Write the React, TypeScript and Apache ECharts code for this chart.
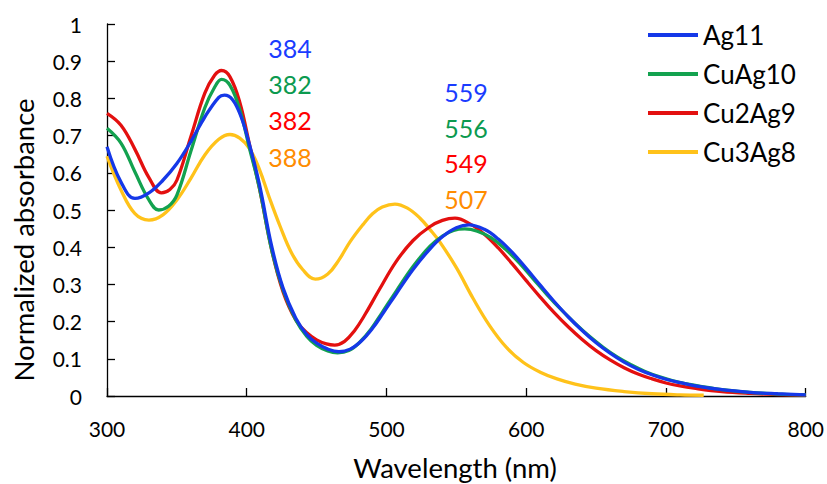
import React, { useEffect, useRef } from "react";
import * as echarts from "echarts";

const seriesNames = ["Ag11", "CuAg10", "Cu2Ag9", "Cu3Ag8"];
const lineColors = ["#1538e8", "#13a24f", "#e3100f", "#ffc21a"];
const peakColors = ["#1a3cff", "#0b9a4f", "#ff0000", "#ff8c00"];
const peakLeft = ["384", "382", "382", "388"];
const peakRight = ["559", "556", "549", "507"];

const ag11 = [
  [300, 0.67], [310, 0.575], [320, 0.531], [330, 0.546], [340, 0.58], [350, 0.625],
  [360, 0.684], [370, 0.75], [380, 0.803], [384, 0.809], [390, 0.796], [396, 0.75],
  [402, 0.675], [409, 0.57], [418, 0.4], [426, 0.29], [435, 0.21], [443, 0.165],
  [450, 0.142], [458, 0.126], [466, 0.119], [474, 0.126], [482, 0.148], [490, 0.182],
  [498, 0.225], [507, 0.275], [519, 0.34], [531, 0.395], [540, 0.428], [550, 0.452],
  [559, 0.46], [570, 0.448], [580, 0.422], [590, 0.386], [600, 0.343], [610, 0.298],
  [620, 0.254], [630, 0.213], [640, 0.176], [650, 0.143], [660, 0.115], [670, 0.091],
  [680, 0.072], [690, 0.057], [700, 0.045], [710, 0.036], [720, 0.028], [740, 0.017],
  [760, 0.01], [780, 0.006], [800, 0.003],
];
const cuAg10 = [
  [300, 0.72], [310, 0.68], [320, 0.602], [330, 0.527], [337, 0.5], [344, 0.51],
  [350, 0.54], [360, 0.658], [370, 0.775], [377, 0.83], [382, 0.851], [388, 0.835],
  [395, 0.77], [402, 0.665], [409, 0.56], [418, 0.39], [426, 0.285], [435, 0.205],
  [443, 0.16], [450, 0.136], [458, 0.121], [465, 0.116], [473, 0.122], [481, 0.145],
  [489, 0.18], [497, 0.225], [507, 0.282], [519, 0.348], [531, 0.402], [540, 0.43],
  [548, 0.445], [556, 0.449], [565, 0.443], [575, 0.425], [585, 0.395], [595, 0.358],
  [605, 0.315], [615, 0.272], [625, 0.232], [635, 0.195], [645, 0.161], [655, 0.131],
  [665, 0.105], [675, 0.084], [685, 0.066], [695, 0.052], [705, 0.041], [720, 0.029],
  [740, 0.017], [760, 0.01], [780, 0.005], [800, 0.003],
];
const cu2Ag9 = [
  [300, 0.76], [310, 0.728], [320, 0.663], [330, 0.587], [339, 0.546], [345, 0.555],
  [350, 0.58], [360, 0.697], [370, 0.814], [377, 0.862], [382, 0.875], [388, 0.858],
  [395, 0.79], [402, 0.675], [409, 0.56], [418, 0.39], [426, 0.28], [435, 0.205],
  [443, 0.17], [450, 0.151], [457, 0.14], [463, 0.137], [470, 0.147], [477, 0.175],
  [484, 0.215], [495, 0.287], [507, 0.362], [519, 0.418], [531, 0.455], [540, 0.472],
  [549, 0.478], [560, 0.462], [570, 0.435], [580, 0.398], [590, 0.355], [600, 0.31],
  [610, 0.266], [620, 0.224], [630, 0.186], [640, 0.152], [650, 0.122], [660, 0.097],
  [670, 0.076], [680, 0.059], [690, 0.046], [700, 0.035], [710, 0.027], [720, 0.021],
  [740, 0.012], [760, 0.007], [780, 0.004], [800, 0.002],
];
const cu3Ag8 = [
  [300, 0.645], [310, 0.554], [320, 0.49], [330, 0.473], [340, 0.487], [350, 0.527],
  [360, 0.585], [370, 0.648], [380, 0.69], [388, 0.703], [395, 0.693], [402, 0.665],
  [409, 0.61], [416, 0.535], [424, 0.455], [432, 0.385], [440, 0.34], [449, 0.314],
  [458, 0.328], [466, 0.366], [474, 0.415], [483, 0.46], [490, 0.49], [497, 0.508],
  [506, 0.516], [515, 0.505], [524, 0.478], [531, 0.448], [538, 0.415], [550, 0.345],
  [562, 0.262], [574, 0.188], [586, 0.13], [598, 0.09], [610, 0.064], [622, 0.046],
  [635, 0.032], [650, 0.021], [670, 0.012], [690, 0.006], [710, 0.003], [727, 0.002],
];
const seriesData = [ag11, cuAg10, cu2Ag9, cu3Ag8];

const FONT = "Lato, 'Open Sans', sans-serif";

export default function App() {
  const ref = useRef<HTMLDivElement>(null);
  useEffect(() => {
    if (!ref.current) return;
    const chart = echarts.init(ref.current, null, { renderer: "svg" });
    const graphics: any[] = [];
    peakLeft.forEach((t, i) => {
      graphics.push({
        type: "text", x: 290, y: 48 + i * 36.2,
        style: { text: t, fill: peakColors[i], font: `25px ${FONT}`, align: "center", verticalAlign: "middle" },
      });
    });
    peakRight.forEach((t, i) => {
      graphics.push({
        type: "text", x: 466, y: 92 + i * 35.7,
        style: { text: t, fill: peakColors[i], font: `25px ${FONT}`, align: "center", verticalAlign: "middle" },
      });
    });
    graphics.push({
      type: "text", x: 23, y: 240, rotation: Math.PI / 2,
      style: { text: "Normalized absorbance", fill: "#000", font: `27.5px ${FONT}`, align: "center", verticalAlign: "middle" },
    });
    graphics.push({
      type: "text", x: 455, y: 467,
      style: { text: "Wavelength (nm)", fill: "#000", font: `27.5px ${FONT}`, align: "center", verticalAlign: "middle" },
    });
    chart.setOption({
      animation: false,
      backgroundColor: "#fff",
      grid: { left: 107, right: 20, top: 24, bottom: 88, containLabel: false },
      legend: {
        orient: "vertical", left: 643, top: 17, itemWidth: 50, itemHeight: 4, itemGap: 13,
        icon: "rect",
        textStyle: { fontSize: 26, lineHeight: 24, color: "#000", fontFamily: FONT },
        data: seriesNames,
      },
      xAxis: {
        type: "value", min: 300, max: 800, interval: 100,
        axisLine: { show: true, lineStyle: { color: "#000", width: 1.3 } },
        axisTick: { show: true, inside: true, length: 8, lineStyle: { color: "#000", width: 1.3 } },
        axisLabel: { color: "#000", fontSize: 21, fontFamily: FONT, margin: 22 },
        splitLine: { show: false },
      },
      yAxis: {
        type: "value", min: 0, max: 1, interval: 0.1,
        axisLine: { show: true, lineStyle: { color: "#000", width: 1.3 } },
        axisTick: { show: true, inside: true, length: 8, lineStyle: { color: "#000", width: 1.3 } },
        axisLabel: { color: "#000", fontSize: 21, fontFamily: FONT, margin: 25 },
        splitLine: { show: false },
      },
      graphic: graphics,
      series: seriesNames.map((name, i) => ({
        name, type: "line", data: seriesData[i], smooth: 0.4, showSymbol: false, symbol: "none",
        color: lineColors[i],
        lineStyle: { color: lineColors[i], width: 3.3 },
        z: 10 - i,
      })),
    });
    return () => chart.dispose();
  }, []);
  return (
    <div
      ref={ref}
      style={{ position: "fixed", left: 0, top: 0, width: 827, height: 484, background: "#fff" }}
    />
  );
}
